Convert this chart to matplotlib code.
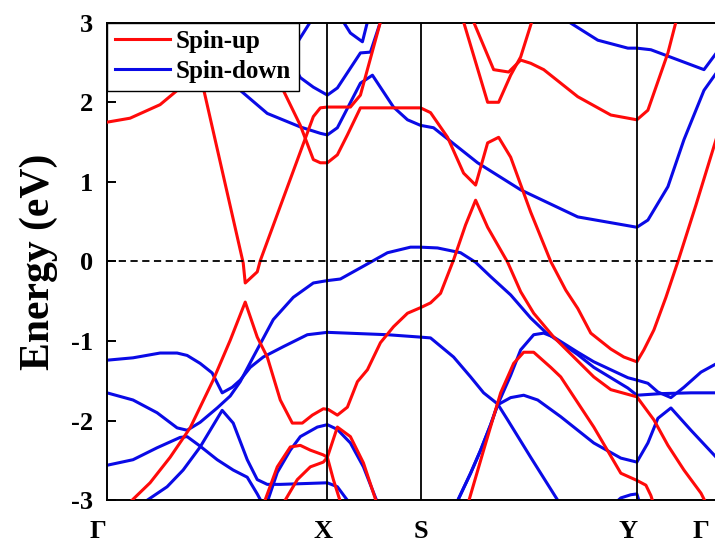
import matplotlib
matplotlib.use("Agg")
import matplotlib.pyplot as plt
import matplotlib.transforms as mtransforms

plt.rcParams['font.family'] = ['Liberation Serif', 'DejaVu Serif']
plt.rcParams['font.weight'] = 'bold'

# high-symmetry points along the path (path-length units)
kpoints = [0.0, 2.2, 3.13, 5.29, 6.07]
klabels = ['Γ', 'X', 'S', 'Y', 'Γ']

# spin-up bands, (k, E in eV)
up_1 = [(0.00, 1.75), (0.23, 1.80), (0.53, 1.97), (0.73, 2.18), (0.83, 2.34), (0.91, 2.51),
        (0.96, 2.19), (1.36, -0.02), (1.38, -0.27), (1.50, -0.13), (1.53, 0.01), (2.06, 1.82),
        (2.13, 1.93), (2.20, 1.94), (2.43, 1.94), (2.53, 2.09), (2.73, 3.01)]
up_2 = [(1.47, 3.01), (1.76, 2.15), (1.93, 1.71), (2.06, 1.28), (2.13, 1.24), (2.20, 1.24),
        (2.30, 1.34), (2.40, 1.59), (2.53, 1.93), (3.13, 1.93), (3.23, 1.87), (3.40, 1.56),
        (3.56, 1.11), (3.68, 0.96), (3.80, 1.49), (3.91, 1.56), (4.03, 1.31), (4.23, 0.62),
        (4.43, 0.00), (4.58, -0.36), (4.70, -0.59), (4.83, -0.90), (5.03, -1.10), (5.16, -1.20),
        (5.29, -1.26), (5.36, -1.11), (5.46, -0.86), (5.58, -0.45), (5.70, 0.00), (5.88, 0.71),
        (6.08, 1.53)]
up_3 = [(0.20, -3.06), (0.43, -2.78), (0.63, -2.46), (0.83, -2.09), (1.06, -1.49), (1.23, -0.99),
        (1.38, -0.51), (1.50, -0.95), (1.60, -1.20), (1.73, -1.74), (1.85, -2.03), (1.95, -2.03),
        (2.05, -1.93), (2.16, -1.85), (2.21, -1.86), (2.30, -1.93), (2.40, -1.83), (2.50, -1.51),
        (2.60, -1.36), (2.73, -1.02), (2.86, -0.82), (3.00, -0.65), (3.13, -0.58), (3.23, -0.52),
        (3.33, -0.40), (3.46, 0.02), (3.58, 0.46), (3.68, 0.77), (3.80, 0.43), (4.00, -0.01),
        (4.13, -0.38), (4.26, -0.65), (4.46, -0.95), (4.86, -1.45), (5.03, -1.61), (5.29, -1.70),
        (5.46, -1.99), (5.60, -2.31), (5.76, -2.62), (5.93, -2.91), (5.99, -3.06)]
up_4 = [(3.60, -3.06), (3.76, -2.37), (3.93, -1.65), (4.06, -1.28), (4.16, -1.14), (4.26, -1.14),
        (4.43, -1.33), (4.53, -1.45), (4.86, -2.08), (5.13, -2.66), (5.29, -2.75), (5.38, -2.81),
        (5.43, -2.94), (5.46, -3.06)]
up_5 = [(1.56, -3.06), (1.70, -2.58), (1.83, -2.33), (1.93, -2.31), (2.03, -2.37), (2.16, -2.43),
        (2.20, -2.46), (2.26, -2.74), (2.34, -3.06)]
up_6 = [(1.75, -3.06), (1.90, -2.74), (2.03, -2.58), (2.16, -2.52), (2.20, -2.46), (2.30, -2.08),
        (2.43, -2.20), (2.56, -2.53), (2.70, -3.06)]
up_7 = [(3.56, 3.01), (3.80, 2.00), (3.91, 2.00), (4.03, 2.34), (4.13, 2.57), (4.24, 3.01)]
up_8 = [(3.66, 3.01), (3.86, 2.41), (4.01, 2.38), (4.13, 2.53), (4.23, 2.49), (4.36, 2.41),
        (4.70, 2.07), (5.03, 1.84), (5.29, 1.78), (5.40, 1.90), (5.60, 2.62), (5.68, 3.01)]

# spin-down bands, (k, E in eV)
dn_1 = [(0.00, -1.24), (0.26, -1.21), (0.53, -1.15), (0.70, -1.15), (0.80, -1.18), (0.93, -1.28),
        (1.05, -1.40), (1.15, -1.65), (1.25, -1.58), (1.33, -1.49), (1.43, -1.33), (1.56, -1.20),
        (1.76, -1.07), (2.00, -0.92), (2.20, -0.89), (2.80, -0.92), (3.13, -0.95), (3.23, -0.96),
        (3.46, -1.20), (3.63, -1.45), (3.76, -1.65), (3.90, -1.79), (4.00, -1.99), (4.23, -2.46),
        (4.53, -3.06)]
dn_2 = [(0.00, -1.65), (0.26, -1.74), (0.50, -1.90), (0.70, -2.09), (0.80, -2.12), (0.93, -2.02),
        (1.10, -1.84), (1.23, -1.69), (1.33, -1.51), (1.46, -1.20), (1.66, -0.73), (1.86, -0.45),
        (2.06, -0.27), (2.20, -0.24), (2.33, -0.22), (2.53, -0.08), (2.80, 0.11), (3.03, 0.18),
        (3.13, 0.18), (3.30, 0.17), (3.53, 0.11), (3.68, -0.01), (3.83, -0.19), (4.03, -0.42),
        (4.23, -0.71), (4.38, -0.89), (4.53, -1.02), (4.70, -1.17), (4.86, -1.33), (5.03, -1.46),
        (5.20, -1.59), (5.29, -1.68), (5.53, -1.66), (5.83, -1.65), (6.09, -1.65)]
dn_3 = [(0.00, -2.56), (0.26, -2.49), (0.50, -2.34), (0.73, -2.21), (0.80, -2.20), (0.93, -2.32),
        (1.10, -2.49), (1.26, -2.62), (1.40, -2.71), (1.50, -2.92), (1.56, -3.06)]
dn_4 = [(0.36, -3.06), (0.40, -3.00), (0.60, -2.83), (0.76, -2.62), (0.93, -2.33), (1.15, -1.87),
        (1.26, -2.03), (1.40, -2.49), (1.50, -2.74), (1.60, -2.80), (1.73, -2.80), (2.20, -2.78),
        (2.30, -2.83), (2.40, -3.00), (2.43, -3.06)]
dn_5 = [(1.59, -3.06), (1.70, -2.65), (1.83, -2.37), (1.93, -2.20), (2.10, -2.08), (2.20, -2.05),
        (2.30, -2.11), (2.43, -2.28), (2.56, -2.58), (2.71, -3.06)]
dn_6 = [(1.73, 2.78), (1.93, 2.31), (2.06, 2.19), (2.20, 2.09), (2.30, 2.18), (2.53, 2.62),
        (2.63, 2.63), (2.73, 3.01)]
dn_7 = [(1.83, 2.59), (1.90, 2.75), (2.03, 3.01)]
dn_8 = [(2.36, 3.01), (2.43, 2.87), (2.55, 2.76), (2.60, 3.01)]
dn_9 = [(1.08, 2.53), (1.33, 2.15), (1.60, 1.86), (1.93, 1.69), (2.13, 1.61), (2.20, 1.59),
        (2.30, 1.68), (2.53, 2.24), (2.65, 2.34), (2.86, 1.94), (3.00, 1.78), (3.13, 1.71),
        (3.26, 1.68), (3.70, 1.24), (4.13, 0.90), (4.70, 0.56), (5.29, 0.43), (5.40, 0.52),
        (5.60, 0.94), (5.76, 1.53), (5.96, 2.15), (6.09, 2.38)]
dn_10 = [(4.61, 3.01), (4.90, 2.78), (5.20, 2.68), (5.29, 2.68), (5.43, 2.66), (5.96, 2.41),
         (6.09, 2.63)]
dn_11 = [(3.48, -3.06), (3.63, -2.66), (3.73, -2.37), (3.83, -2.05), (3.90, -1.80), (4.03, -1.43),
         (4.13, -1.11), (4.26, -0.92), (4.36, -0.90), (4.46, -0.95), (4.70, -1.14), (4.86, -1.26),
         (5.03, -1.36), (5.20, -1.46), (5.29, -1.49), (5.40, -1.53), (5.50, -1.64), (5.63, -1.71),
         (5.76, -1.58), (5.93, -1.39), (6.09, -1.28)]
dn_12 = [(3.48, -3.06), (3.63, -2.66), (3.73, -2.37), (3.83, -2.05), (3.90, -1.80), (4.03, -1.71),
         (4.16, -1.68), (4.30, -1.74), (4.53, -1.95), (4.86, -2.28), (5.13, -2.47), (5.29, -2.52),
         (5.40, -2.28), (5.50, -1.97), (5.63, -1.84), (5.83, -2.12), (6.09, -2.47)]
dn_13 = [(5.05, -3.06), (5.13, -2.97), (5.23, -2.93), (5.29, -2.92), (5.31, -3.00), (5.33, -3.06)]

spin_up = [up_1, up_2, up_3, up_4, up_5, up_6, up_7, up_8]
spin_down = [dn_1, dn_2, dn_3, dn_4, dn_5, dn_6, dn_7, dn_8, dn_9, dn_10, dn_11, dn_12, dn_13]

fig = plt.figure(figsize=(7.15, 5.49), dpi=100)
ax = fig.add_axes([107 / 715, 0.0887, 609 / 715, 0.87])

lw = 2.2
for i, band in enumerate(spin_down):
    k, e = zip(*band)
    ax.plot(k, e, color='#0a0ae6', lw=lw, label='Spin-down' if i == 0 else None, zorder=2)
for i, band in enumerate(spin_up):
    k, e = zip(*band)
    ax.plot(k, e, color='#ff0a0a', lw=lw, label='Spin-up' if i == 0 else None, zorder=3)

for kp in kpoints[1:-1]:
    ax.axvline(kp, color='black', lw=1.3, zorder=4)
ax.axhline(0, color='black', lw=1.3, dashes=(4, 2.5), zorder=4)

ax.set_xlim(0, 6.08)
ax.set_ylim(-3, 3)
ax.set_yticks([-3, -2, -1, 0, 1, 2, 3])
ax.set_yticklabels(['-3', '-2', '-1', '0', '1', '2', '3'])
ax.set_xticks(kpoints)
ax.set_xticklabels(klabels)
ax.tick_params(axis='y', direction='in', length=6.5, width=1.4, labelsize=19, pad=10)
ax.tick_params(axis='x', length=0, labelsize=19, pad=14)
for lbl, dx in zip(ax.get_xticklabels(), [-9, -4, 0, -9, -14]):
    lbl.set_transform(lbl.get_transform() + mtransforms.ScaledTranslation(dx / 100, 0, fig.dpi_scale_trans))
for s in ax.spines.values():
    s.set_linewidth(1.4)

ax.set_ylabel('Energy (eV)', fontsize=30, fontweight='bold', labelpad=9)

handles, labels = ax.get_legend_handles_labels()
order = [labels.index('Spin-up'), labels.index('Spin-down')]
leg = ax.legend([handles[i] for i in order], [labels[i] for i in order],
                loc='upper left', bbox_to_anchor=(0, 1), borderaxespad=0,
                prop={'family': 'Liberation Serif', 'weight': 'bold', 'size': 18},
                frameon=True, fancybox=False, framealpha=1, edgecolor='black',
                handlelength=2.2, handletextpad=0.25, borderpad=0.3, labelspacing=0.28)
leg.get_frame().set_linewidth(1.0)
leg.set_zorder(10)

fig.savefig('out.png', dpi=100)
